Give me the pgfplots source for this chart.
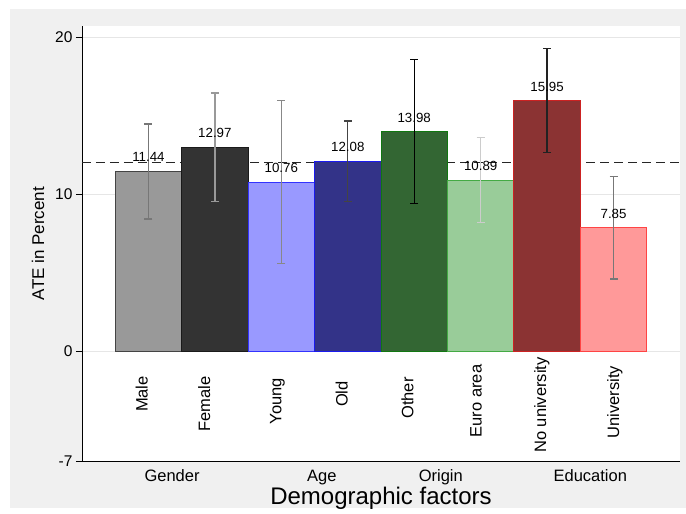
\documentclass[border=0pt]{standalone}
\usepackage{fontspec}
\setmainfont{Liberation Sans}
\usepackage{pgfplots}
\pgfplotsset{compat=1.18}
\definecolor{bg}{HTML}{F0F0F0}
\definecolor{gridc}{HTML}{E6E6E6}
\definecolor{cMale}{HTML}{999999}\definecolor{bMale}{HTML}{444444}\definecolor{eMale}{HTML}{777777}
\definecolor{cFem}{HTML}{333333}\definecolor{bFem}{HTML}{1A1A1A}\definecolor{eFem}{HTML}{999999}
\definecolor{cYoung}{HTML}{9999FF}\definecolor{bYoung}{HTML}{3333FF}\definecolor{eYoung}{HTML}{888888}
\definecolor{cOld}{HTML}{333388}\definecolor{bOld}{HTML}{1A1AEE}\definecolor{eOld}{HTML}{444444}
\definecolor{cOther}{HTML}{336633}\definecolor{bOther}{HTML}{117711}\definecolor{eOther}{HTML}{000000}
\definecolor{cEuro}{HTML}{99CC99}\definecolor{bEuro}{HTML}{44AA44}\definecolor{eEuro}{HTML}{CCCCCC}
\definecolor{cNoU}{HTML}{8B3333}\definecolor{bNoU}{HTML}{CC2222}\definecolor{eNoU}{HTML}{222222}
\definecolor{cUni}{HTML}{FF9999}\definecolor{bUni}{HTML}{FF4444}\definecolor{eUni}{HTML}{777777}
\pgfplotsset{
  mybar/.style n args={3}{ybar, bar width=1, bar shift=0pt, fill=#1, draw=#2, line width=1bp,
    nodes near coords={\pgfmathprintnumber[fixed,fixed zerofill,precision=2]{\pgfplotspointmeta}},
    every node near coord/.append style={anchor=center, yshift=14bp, black,
      font=\fontsize{13.3bp}{15bp}\selectfont},
    error bars/.cd, y dir=both, y explicit,
    error bar style={color=#3, line width=1.4bp},
    error mark options={rotate=90, color=#3, line width=1.4bp, mark size=4bp}}
}
\newcommand{\catfont}{\fontsize{16.5bp}{19bp}\selectfont}
\begin{document}
\begin{tikzpicture}
\fill[white] (-82bp,-47bp) rectangle (604bp,461bp);
\fill[bg] (-72bp,-47bp) rectangle (604bp,452bp);
\begin{axis}[
  width=598bp, height=435bp, scale only axis,
  xmin=0, xmax=9, ymin=-7, ymax=20.7,
  axis lines*=left, axis line style={-, black, line width=0.9bp},
  axis background/.style={fill=white},
  ytick={-7,0,10,20},
  ymajorgrids, grid style={color=gridc, line width=0.8bp},
  tick align=outside, major tick length=6bp,
  y tick style={black, line width=0.9bp},
  xtick={1.355,3.61,5.40,7.65}, xticklabels={Gender,Age,Origin,Education},
  x tick style={draw=none},
  /pgf/number format/assume math mode=true,
  yticklabel style={font=\fontsize{15.5bp}{18bp}\selectfont, black},
  xticklabel style={font=\catfont, black, yshift=0.5bp},
  ylabel={ATE in Percent},
  ylabel style={at={(axis description cs:-0.0736,0.5)}, anchor=center, font=\fontsize{17bp}{20bp}\selectfont},
  xlabel={Demographic factors},
  xlabel style={at={(axis description cs:0.5,-0.1011)}, anchor=base, font=\fontsize{24bp}{28bp}\selectfont},
  clip=false,
]
\addplot[color=black!85, line width=1.3bp, dash pattern=on 9bp off 5bp] coordinates {(0,12) (9,12)};
\addplot[mybar={cMale}{bMale}{eMale}] coordinates {(1,11.44) +- (0,3.03)};
\addplot[mybar={cFem}{bFem}{eFem}] coordinates {(2,12.97) +- (0,3.46)};
\addplot[mybar={cYoung}{bYoung}{eYoung}] coordinates {(3,10.76) +- (0,5.20)};
\addplot[mybar={cOld}{bOld}{eOld}] coordinates {(4,12.08) +- (0,2.56)};
\addplot[mybar={cOther}{bOther}{eOther}] coordinates {(5,13.98) +- (0,4.60)};
\addplot[mybar={cEuro}{bEuro}{eEuro}] coordinates {(6,10.89) +- (0,2.71)};
\addplot[mybar={cNoU}{bNoU}{eNoU}] coordinates {(7,15.95) +- (0,3.31)};
\addplot[mybar={cUni}{bUni}{eUni}] coordinates {(8,7.85) +- (0,3.26)};
\node[rotate=90, font=\catfont] at (axis cs:0.90,-2.74) {Male};
\node[rotate=90, font=\catfont] at (axis cs:1.84,-3.38) {Female};
\node[rotate=90, font=\catfont] at (axis cs:2.94,-3.18) {Young};
\node[rotate=90, font=\catfont] at (axis cs:3.91,-2.74) {Old};
\node[rotate=90, font=\catfont] at (axis cs:4.90,-2.99) {Other};
\node[rotate=90, font=\catfont] at (axis cs:5.93,-3.18) {Euro area};
\node[rotate=90, font=\catfont] at (axis cs:6.92,-3.44) {No university};
\node[rotate=90, font=\catfont] at (axis cs:8.02,-3.25) {University};
\end{axis}
\end{tikzpicture}
\end{document}
